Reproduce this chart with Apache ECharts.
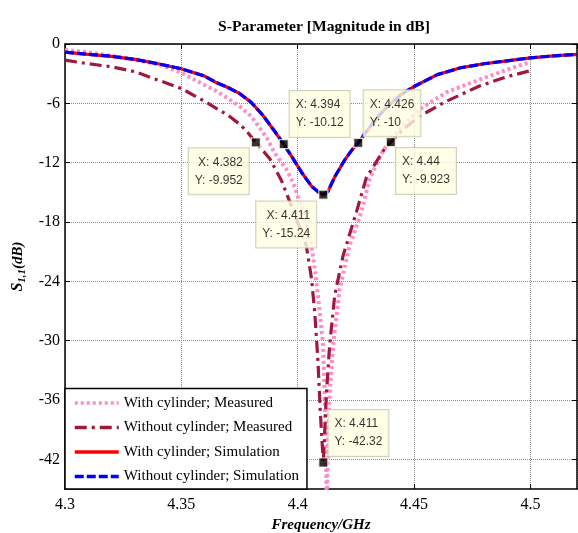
<!DOCTYPE html>
<html><head><meta charset="utf-8">
<script src="https://cdn.jsdelivr.net/npm/echarts@6/dist/echarts.min.js"></script>
<style>html,body{margin:0;padding:0;background:#fff}#c{width:578px;height:533px}</style>
</head><body><div id="c"></div>
<script>
// ---- data ----
const seriesNames = ['With cylinder; Measured', 'Without cylinder; Measured', 'With cylinder; Simulation', 'Without cylinder; Simulation'];
const freqSim = [4.300,4.310,4.320,4.330,4.340,4.350,4.360,4.365,4.370,4.375,4.380,4.385,4.390,4.394,4.398,4.402,4.406,4.409,4.411,4.413,4.416,4.420,4.423,4.426,4.430,4.435,4.440,4.445,4.450,4.460,4.470,4.480,4.490,4.500,4.510,4.520];
const s11WithSim = [-0.83,-1.05,-1.25,-1.55,-2.0,-2.5,-3.25,-3.9,-4.4,-5.0,-5.9,-7.2,-8.8,-10.12,-11.6,-13.1,-14.4,-15.0,-15.24,-14.9,-13.4,-11.8,-10.8,-10.0,-8.7,-7.2,-6.0,-5.0,-4.3,-3.1,-2.4,-2.0,-1.7,-1.4,-1.2,-1.05];
const s11WithoutSim = [-0.83,-1.05,-1.25,-1.55,-2.0,-2.5,-3.25,-3.9,-4.4,-5.0,-5.9,-7.2,-8.8,-10.12,-11.6,-13.1,-14.4,-15.0,-15.24,-14.9,-13.4,-11.8,-10.8,-10.0,-8.7,-7.2,-6.0,-5.0,-4.3,-3.1,-2.4,-2.0,-1.7,-1.4,-1.2,-1.05];
const freqWithMeas = [4.300,4.310,4.320,4.330,4.340,4.350,4.360,4.365,4.370,4.375,4.380,4.384,4.387,4.390,4.395,4.398,4.402,4.4059,4.4075,4.4087,4.4109,4.4116,4.412,4.4125,4.413,4.4137,4.4152,4.418,4.4223,4.4273,4.431,4.4366,4.440,4.445,4.4524,4.4638,4.4781,4.490,4.500];
const s11WithMeas = [-0.6,-0.85,-1.2,-1.6,-2.05,-2.9,-4.15,-4.75,-5.5,-6.3,-7.3,-8.6,-9.6,-11.0,-12.6,-14.0,-16.8,-20.4,-23.0,-25.4,-30.5,-35.5,-40.0,-47.0,-40.0,-35.5,-30.5,-24.8,-20.4,-17.0,-13.6,-10.8,-9.7,-8.3,-6.6,-4.9,-3.6,-2.6,-1.8];
const freqWithoutMeas = [4.300,4.310,4.320,4.330,4.340,4.350,4.360,4.365,4.370,4.375,4.378,4.382,4.388,4.393,4.398,4.4037,4.4059,4.4073,4.4087,4.4097,4.411,4.4123,4.4137,4.4159,4.4195,4.4252,4.4295,4.4373,4.440,4.445,4.4524,4.4638,4.4781,4.490,4.500];
const s11WithoutMeas = [-1.63,-2.0,-2.3,-2.8,-3.65,-4.5,-5.8,-6.5,-7.2,-8.1,-8.8,-9.952,-11.6,-13.8,-16.8,-20.4,-23.7,-27.1,-32.1,-37.2,-42.32,-35.5,-30.5,-25.4,-21.4,-17.0,-13.5,-10.6,-9.923,-8.7,-7.3,-5.8,-4.25,-3.3,-2.7];
const tipFreq = [4.382, 4.394, 4.426, 4.44, 4.411, 4.411];
const tipS11 = [-9.952, -10.12, -10, -9.923, -15.24, -42.32];
const xTicks = [4.3, 4.35, 4.4, 4.45, 4.5];
const yTicks = [-42, -36, -30, -24, -18, -12, -6, 0];

// ---- styles ----
const tipPlace = [[-6.5, 6.5, 'right', 'top'], [6.5, -6.5, 'left', 'bottom'], [6, -6, 'left', 'bottom'], [5.7, 6.5, 'left', 'top'], [-6.5, 7.5, 'right', 'top'], [5.7, -6, 'left', 'bottom']];
const SYM = 9;
const serif = 'Liberation Serif';
const zip = (a, b) => a.map((v, i) => [v, b[i]]);

const chart = echarts.init(document.getElementById('c'), null, {renderer: 'canvas'});
const axisLineStyle = {color: '#000', width: 1.5};
const gridLine = {show: true, lineStyle: {color: '#8c8c8c', type: 'dotted', width: 1}};
const tickLabel = {color: '#000', fontFamily: serif, fontSize: 16};

chart.setOption({
  animation: false,
  backgroundColor: '#fff',
  title: {
    text: 'S-Parameter [Magnitude in dB]', left: 319, top: 14, textAlign: 'center',
    textStyle: {fontFamily: serif, fontWeight: 'bold', fontSize: 15.6, color: '#000'}
  },
  grid: {left: 65, right: 1, top: 44, bottom: 44, containLabel: false, outerBoundsMode: 'none'},
  legend: {
    data: seriesNames, orient: 'vertical', left: 65, bottom: 44,
    backgroundColor: '#fff', borderColor: '#000', borderWidth: 1.5,
    padding: [7, 8, 5, 8], itemGap: 9.5, itemWidth: 44, itemHeight: 14,
    itemStyle: {opacity: 0},
    lineStyle: {width: 3.5},
    textStyle: {fontFamily: serif, fontSize: 15, color: '#000'}
  },
  xAxis: [{
    type: 'value', min: 4.3, max: 4.52, interval: 0.05,
    axisLine: {show: true, onZero: false, lineStyle: axisLineStyle},
    axisTick: {show: true, inside: true, length: 5, lineStyle: {color: '#000'}},
    axisLabel: Object.assign({showMaxLabel: false, margin: 8, formatter: v => String(+v.toFixed(3))}, tickLabel),
    splitLine: gridLine,
    name: 'Frequency/GHz', nameLocation: 'middle', nameGap: 26,
    nameTextStyle: {fontFamily: serif, fontSize: 15, fontWeight: 'bold', fontStyle: 'italic', color: '#000'}
  }, {
    type: 'value', position: 'top', min: 4.3, max: 4.52, interval: 0.05,
    axisLine: {show: true, onZero: false, lineStyle: axisLineStyle},
    axisTick: {show: true, inside: true, length: 5, lineStyle: {color: '#000'}},
    axisLabel: {show: false}, splitLine: {show: false}
  }],
  yAxis: [{
    type: 'value', min: -45, max: 0,
    axisLine: {show: true, onZero: false, lineStyle: axisLineStyle},
    axisTick: {show: true, inside: true, length: 5, lineStyle: {color: '#000'}, customValues: yTicks},
    axisLabel: Object.assign({customValues: yTicks, margin: 5}, tickLabel),
    splitLine: gridLine,
    name: '{s|S}{sub|1,1}{n|(dB)}', nameLocation: 'middle', nameGap: 32,
    nameTextStyle: {
      color: '#000',
      rich: {
        s: {fontFamily: serif, fontSize: 16, fontWeight: 'bold', fontStyle: 'italic', lineHeight: 20, color: '#000'},
        sub: {fontFamily: serif, fontSize: 11, fontWeight: 'bold', fontStyle: 'italic', lineHeight: 10, verticalAlign: 'bottom', color: '#000'},
        n: {fontFamily: serif, fontSize: 15, fontWeight: 'bold', fontStyle: 'italic', lineHeight: 20, color: '#000'}
      }
    }
  }, {
    type: 'value', position: 'right', min: -45, max: 0,
    axisLine: {show: true, onZero: false, lineStyle: axisLineStyle},
    axisTick: {show: true, inside: true, length: 5, lineStyle: {color: '#000'}, customValues: yTicks},
    axisLabel: {show: false, customValues: yTicks}, splitLine: {show: false}
  }],
  series: [{
    name: seriesNames[0], type: 'line', data: zip(freqWithMeas, s11WithMeas), symbol: 'none', clip: true, z: 2,
    lineStyle: {color: '#ff8cc6', width: 4, type: [3, 3], cap: 'butt'}, itemStyle: {color: '#ff8cc6'}
  }, {
    name: seriesNames[1], type: 'line', data: zip(freqWithoutMeas, s11WithoutMeas), symbol: 'none', clip: true, z: 3,
    lineStyle: {color: '#a0193c', width: 3.2, type: [12, 5, 3, 5], cap: 'butt'}, itemStyle: {color: '#a0193c'}
  }, {
    name: seriesNames[2], type: 'line', data: zip(freqSim, s11WithSim), symbol: 'none', clip: true, z: 4,
    lineStyle: {color: '#ff0000', width: 3.2, type: 'solid'}, itemStyle: {color: '#ff0000'}
  }, {
    name: seriesNames[3], type: 'line', data: zip(freqSim, s11WithoutSim), symbol: 'none', clip: true, z: 5,
    lineStyle: {color: '#0000ff', width: 3.2, type: [9, 3], cap: 'butt'}, itemStyle: {color: '#0000ff'}
  }, {
    name: 'datatips', type: 'scatter', z: 10, symbol: 'rect', symbolSize: SYM,
    itemStyle: {color: '#000', borderColor: '#ffffe1', borderWidth: 1.2},
    data: tipFreq.map((f, i) => ({
      value: [f, tipS11[i]],
      label: {position: [tipPlace[i][0] + SYM / 2, tipPlace[i][1] + SYM / 2], align: tipPlace[i][2], verticalAlign: tipPlace[i][3]}
    })),
    label: {
      show: true,
      formatter: p => 'X: ' + p.value[0] + '\nY: ' + p.value[1],
      fontFamily: 'Liberation Sans', fontSize: 12, lineHeight: 18, color: '#000',
      backgroundColor: '#ffffe1', borderColor: '#c4c4ac', borderWidth: 1, padding: [5, 6]
    },
    emphasis: {disabled: true}
  }]
});
</script></body></html>
